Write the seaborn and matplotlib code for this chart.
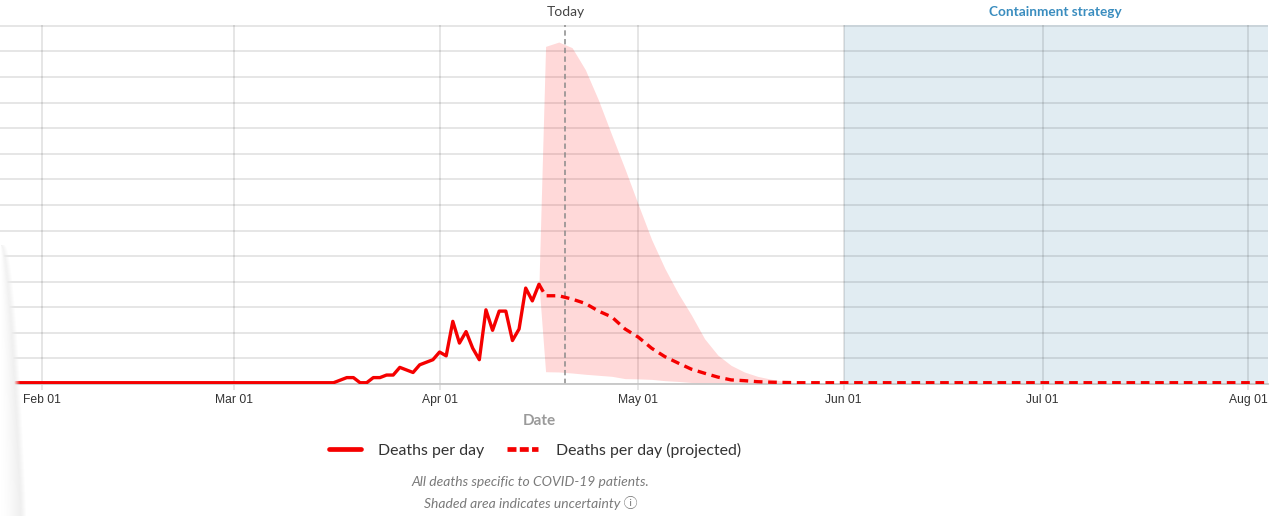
import pandas as pd
import numpy as np
import matplotlib.pyplot as plt
import matplotlib.dates as mdates
import matplotlib.transforms as mtransforms
from matplotlib.lines import Line2D
import seaborn as sns

# === DATA ===
obs_start = '2020-01-28'
obs_deaths = [
    0, 0, 0, 0, 0, 0, 0, 0, 0, 0, 0, 0, 0, 0, 0, 0,
    0, 0, 0, 0, 0, 0, 0, 0, 0, 0, 0, 0, 0, 0, 0, 0,
    0, 0, 0, 0, 0, 0, 0, 0, 0, 0, 0, 0, 0, 0, 0, 0,
    0, 1, 2, 2, 0, 0, 2, 2, 3, 3, 6, 5, 4, 7, 8, 9,
    12, 10.5, 24, 15.5, 20, 13.5, 9, 28.5, 20.5, 28, 28, 16.5, 21, 37, 32, 38.5,
]

proj_dates = ['2020-04-16', '2020-04-17', '2020-04-19', '2020-04-21', '2020-04-23',
              '2020-04-25', '2020-04-27', '2020-04-29', '2020-05-01', '2020-05-03',
              '2020-05-05', '2020-05-07', '2020-05-09', '2020-05-11', '2020-05-13',
              '2020-05-15', '2020-05-17', '2020-05-19', '2020-05-21', '2020-05-23',
              '2020-05-25', '2020-08-04']
proj_mean = [38.5, 34, 34, 32.7, 31, 28, 25.7, 21, 17.8, 13.5, 10.2, 7.7, 5.3, 3.7,
             2.2, 1.1, 0.8, 0.4, 0.2, 0.1, 0, 0]
proj_upper = [38.5, 131.5, 133.2, 131, 122.4, 110.4, 96.8, 83.5, 69.6, 56, 44.7, 35,
              26.5, 17.2, 10.8, 6.8, 4.2, 2.5, 1.4, 0.5, 0, 0]
proj_lower = [38.5, 4.3, 4.2, 3.8, 3.3, 2.9, 2.5, 1.6, 1.5, 1.3, 0.8, 0.5, 0.1, 0,
              0, 0, 0, 0, 0, 0, 0, 0]

today = '2020-04-20'
containment_start = '2020-06-01'

obs = pd.DataFrame({'Date': pd.date_range(obs_start, periods=len(obs_deaths)),
                    'Deaths': obs_deaths})
proj = pd.DataFrame({'Date': pd.to_datetime(proj_dates), 'Deaths': proj_mean,
                     'Upper': proj_upper, 'Lower': proj_lower})

# === STYLE ===
sns.set_theme(style='white')
plt.rcParams['font.family'] = ['Lato', 'Noto Sans CJK SC', 'DejaVu Sans']

RED = '#f50000'

fig = plt.figure(figsize=(12.73, 5.16), dpi=100)
ax = fig.add_axes([0, 1 - 384 / 516, 1268 / 1273, (384 - 25.4) / 516])

x0 = pd.Timestamp('2020-01-25 15:50')
x1 = pd.Timestamp('2020-08-04 00:45')

ax.axvspan(pd.Timestamp(containment_start), x1, color='#e1ecf2', lw=0, zorder=0)

ax.fill_between(proj['Date'], proj['Lower'], proj['Upper'], color='red', alpha=0.15,
                lw=0, zorder=1)

ax.axvline(pd.Timestamp(today), color='#8a8a8a', lw=1.1, dashes=(3.5, 2.2), zorder=2)

sns.lineplot(data=proj, x='Date', y='Deaths', color=RED, lw=2.4, ax=ax, zorder=3,
             errorbar=None)
ax.lines[-1].set_dashes((2.6, 1.7))
sns.lineplot(data=obs, x='Date', y='Deaths', color=RED, lw=2.4, ax=ax, zorder=4,
             errorbar=None)
ax.lines[-1].set_solid_joinstyle('round')

ax.set_xlim(x0, x1)
ax.set_ylim(-0.5, 139.7)
ax.set_yticks(np.arange(-0.5, 140, 10))
ax.xaxis.set_major_locator(mdates.MonthLocator())
ax.xaxis.set_major_formatter(mdates.DateFormatter('%b %d'))
ax.grid(True, color='black', alpha=0.1, lw=1.4)
ax.set_axisbelow(True)
ax.tick_params(axis='y', left=False, labelleft=False)
ax.tick_params(axis='x', bottom=True, length=4, width=1.4, color='#e6e6e6', pad=3,
               labelsize=8.7, labelcolor='#333333')
for lab in ax.get_xticklabels():
    lab.set_family(['Liberation Sans', 'DejaVu Sans'])
for side in ['top', 'left', 'right']:
    ax.spines[side].set_visible(False)
ax.spines['bottom'].set_color('#c6c6c6')
ax.spines['bottom'].set_linewidth(1.3)
ax.set_xlabel('')
ax.set_ylabel('')

# === TEXTS ===
trans = mtransforms.blended_transform_factory(ax.transData, fig.transFigure)
ax.text(pd.Timestamp(today), 1 - 12 / 516, 'Today', transform=trans, ha='center',
        va='center', fontsize=10, color='#444444')
mid = pd.Timestamp(containment_start) + (x1 - pd.Timestamp(containment_start)) / 2
ax.text(mid, 1 - 12 / 516, 'Containment strategy', transform=trans, ha='center',
        va='center', fontsize=9.8, fontweight='bold', color='#3a8dbf')

fig.text(539 / 1273, 1 - 421 / 516, 'Date', ha='center', va='center', fontsize=11,
         fontweight='bold', color='#9a9a9a')

handles = [Line2D([], [], color=RED, lw=3.4),
           Line2D([], [], color=RED, lw=3.4, dashes=(1.9, 0.7))]
fig.legend(handles, ['Deaths per day', 'Deaths per day (projected)'], loc='center',
           bbox_to_anchor=(535 / 1273, 1 - 450 / 516), ncol=2, frameon=False,
           fontsize=11.4, handlelength=2.0, handletextpad=1.1, columnspacing=1.4,
           labelcolor='#333333')

fig.text(530 / 1273, 1 - 481.5 / 516, 'All deaths specific to COVID-19 patients.',
         ha='center', va='center', fontsize=10, style='italic', color='#7a7a7a')
fig.text(531 / 1273, 1 - 503.5 / 516, 'Shaded area indicates uncertainty \u24d8',
         ha='center', va='center', fontsize=10, style='italic', color='#7a7a7a')

# soft panel shadow along the left edge of the screenshot
h, w = 271, 34
yy, xx = np.mgrid[0:h, 0:w]
edge = 22 * np.sqrt((yy + 0.5) / h)
t = np.clip(xx / np.maximum(edge, 1e-6), 0, 1.6)
shade = np.ones((h, w, 4))
grey = 1 - 0.07 * np.clip(t, 0, 1) ** 1.5
for c in range(3):
    shade[..., c] = grey
shade[..., 3] = np.clip((edge + 4 - xx) / 6, 0, 1)
fig.figimage(shade, xo=0, yo=0, origin='upper', zorder=10)

plt.savefig('out.png', dpi=100)
